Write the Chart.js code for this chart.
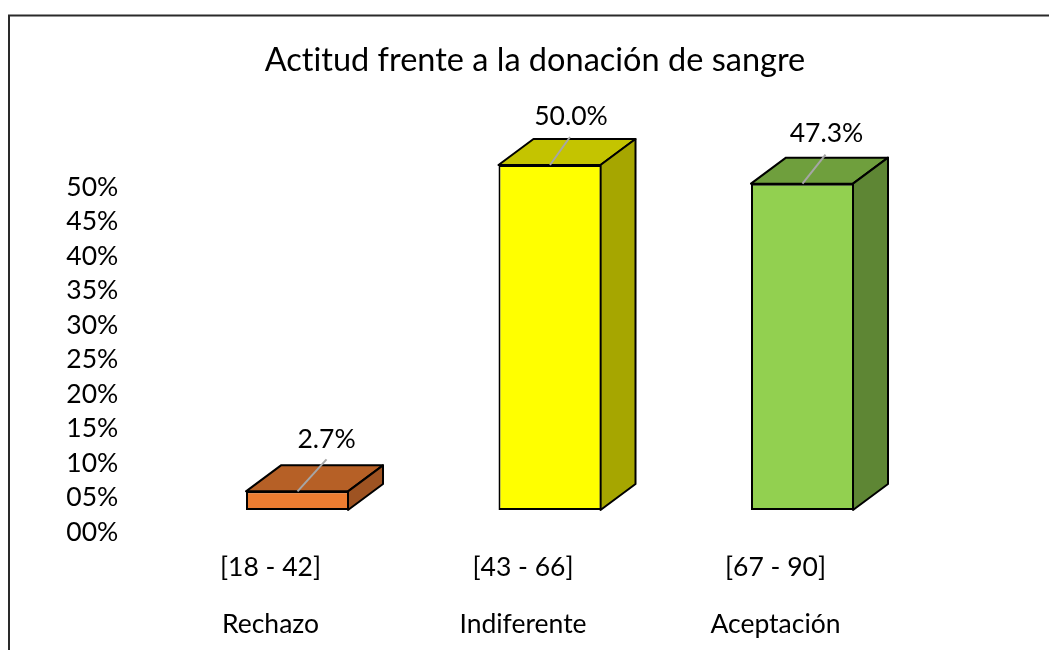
<!DOCTYPE html>
<html><head><meta charset="utf-8">
<style>html,body{margin:0;padding:0;background:#fff;overflow:hidden}canvas{display:block}</style>
<script src="https://cdn.jsdelivr.net/npm/chart.js@4"></script>
</head><body><canvas id="c" width="1049" height="650"></canvas>
<script>
const ranges = ['[18 - 42]', '[43 - 66]', '[67 - 90]'];
const levels = ['Rechazo', 'Indiferente', 'Aceptación'];
const percents = [2.7, 50.0, 47.3];
const frontColors = ['#ED7D31', '#FFFF00', '#92D050'];
const topColors = ['#B66026', '#C4C400', '#6F9F3D'];
const sideColors = ['#9E5322', '#A6A600', '#5E8634'];
const titleText = 'Actitud frente a la donación de sangre';
const FONT = 'Lato, "Noto Sans", sans-serif';
const TEXT_SIZE = 26.5;
const DEPTH_X = 35, DEPTH_Y = 26;
const leaderEnds = [[29, -32], [20, -28], [23, -29]];
const labelShift = [[29, -52], [21, -49], [24, -50]];

const bar3d = {
  id: 'bar3d',
  beforeDraw(chart) {
    const c = chart.ctx;
    c.textRendering = 'optimizeSpeed';
    c.save();
    c.fillStyle = '#fff';
    c.fillRect(0, 0, chart.width, chart.height);
    c.strokeStyle = '#2a2a2a';
    c.lineWidth = 2;
    c.beginPath();
    c.moveTo(9, chart.height);
    c.lineTo(9, 15.5);
    c.lineTo(chart.width, 15.5);
    c.stroke();
    c.restore();
  },
  beforeDatasetsDraw(chart) {
    const c = chart.ctx;
    chart.getDatasetMeta(0).data.forEach((b, i) => {
      const l = b.x - b.width / 2, r = b.x + b.width / 2 - 1, t = b.y, base = b.base;
      c.save();
      c.lineWidth = 2;
      c.lineJoin = 'round';
      c.strokeStyle = '#000';
      c.fillStyle = topColors[i];
      c.beginPath();
      c.moveTo(l, t);
      c.lineTo(l + DEPTH_X, t - DEPTH_Y);
      c.lineTo(r + DEPTH_X, t - DEPTH_Y);
      c.lineTo(r, t);
      c.closePath();
      c.fill(); c.stroke();
      c.fillStyle = sideColors[i];
      c.beginPath();
      c.moveTo(r, t);
      c.lineTo(r + DEPTH_X, t - DEPTH_Y);
      c.lineTo(r + DEPTH_X, base - DEPTH_Y);
      c.lineTo(r, base);
      c.closePath();
      c.fill(); c.stroke();
      c.restore();
    });
  },
  afterDatasetsDraw(chart) {
    const c = chart.ctx;
    chart.getDatasetMeta(0).data.forEach((b, i) => {
      c.save();
      c.strokeStyle = '#A6A6A6';
      c.lineWidth = 2;
      c.beginPath();
      c.moveTo(b.x, b.y);
      c.lineTo(b.x + leaderEnds[i][0], b.y + leaderEnds[i][1]);
      c.stroke();
      c.fillStyle = '#000';
      c.font = TEXT_SIZE + 'px ' + FONT;
      c.textAlign = 'center';
      c.textBaseline = 'middle';
      c.fillText(percents[i].toFixed(1) + '%', b.x + labelShift[i][0], b.y + labelShift[i][1]);
      c.restore();
    });
  }
};

new Chart(document.getElementById('c'), {
  type: 'bar',
  data: {
    labels: ranges.map((r, i) => [r, levels[i]]),
    datasets: [{
      data: percents,
      backgroundColor: frontColors,
      borderColor: '#000',
      borderWidth: 2,
      borderSkipped: false,
      categoryPercentage: 1,
      barPercentage: 0.408
    }]
  },
  plugins: [bar3d],
  options: {
    responsive: false,
    animation: false,
    events: [],
    layout: { padding: { left: 21, right: 0, top: 0, bottom: 0 } },
    plugins: {
      legend: { display: false },
      tooltip: { enabled: false },
      title: {
        display: true,
        text: titleText,
        color: '#000',
        font: { family: FONT, size: 32.5, weight: 'normal', lineHeight: 1.2 },
        padding: { top: 41, bottom: 85 }
      }
    },
    scales: {
      x: {
        grid: { display: false, drawTicks: false },
        border: { display: false },
        afterFit(s) { s.height = 140; },
        ticks: {
          color: '#000',
          maxRotation: 0,
          autoSkip: false,
          labelOffset: -27,
          padding: 29,
          font: { family: FONT, size: TEXT_SIZE, lineHeight: 57 / TEXT_SIZE }
        }
      },
      y: {
        min: 0,
        max: 50,
        grid: { display: false, drawTicks: false },
        border: { display: false },
        afterFit(s) { s.width = 150.25; },
        ticks: {
          color: '#000',
          stepSize: 5,
          autoSkip: false,
          padding: 53,
          labelOffset: 22,
          font: { family: FONT, size: TEXT_SIZE },
          callback: v => String(v).padStart(2, '0') + '%'
        }
      },
      spacer: {
        type: 'linear',
        position: 'right',
        display: true,
        grid: { display: false, drawTicks: false },
        border: { display: false },
        ticks: { display: false },
        afterFit(s) { s.width = 120.25; }
      }
    }
  }
});
</script></body></html>
